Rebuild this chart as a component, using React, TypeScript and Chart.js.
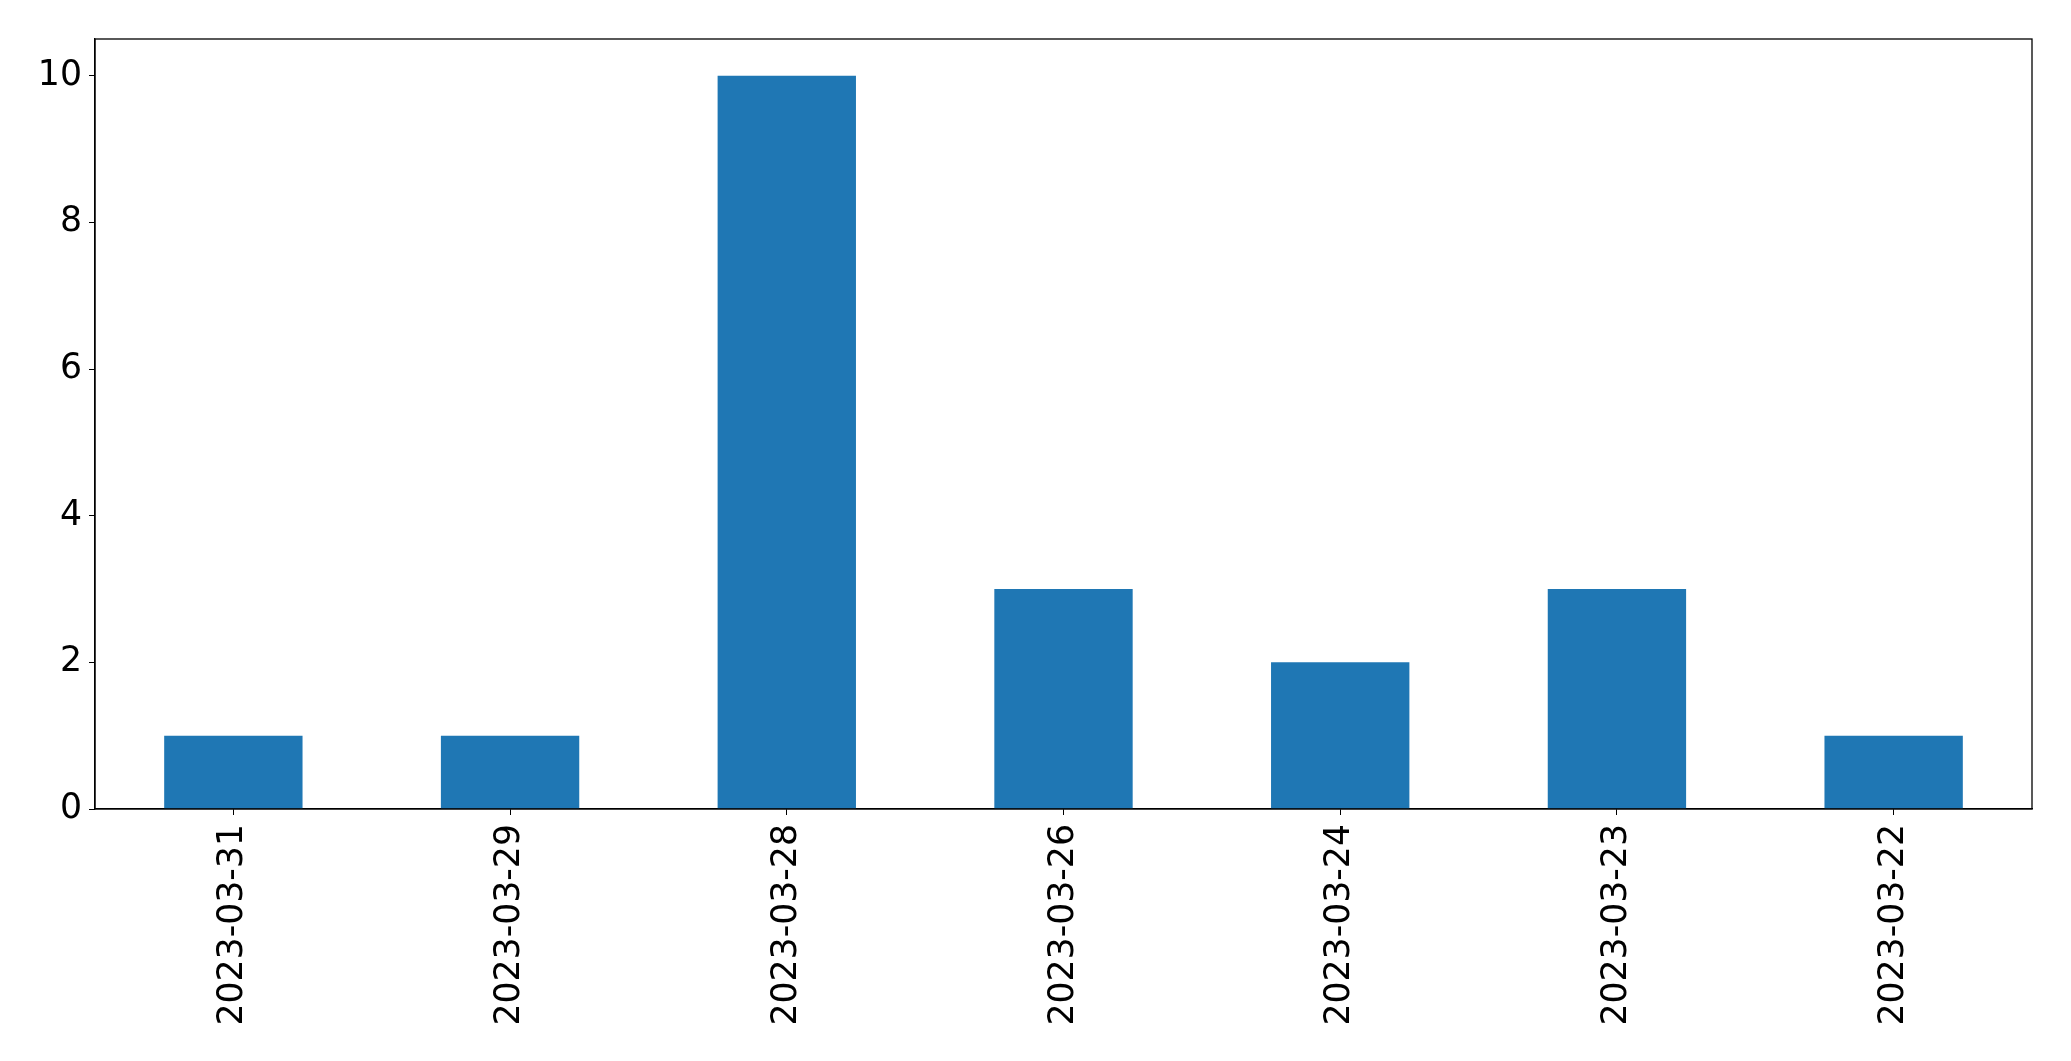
import React, { useEffect, useRef } from "react";
import { Chart, registerables } from "chart.js";

Chart.register(...registerables);

const categories = ["2023-03-31", "2023-03-29", "2023-03-28", "2023-03-26", "2023-03-24", "2023-03-23", "2023-03-22"];
const values = [1, 1, 10, 3, 2, 3, 1];
const yTicks = [0, 2, 4, 6, 8, 10];

const frame = {
  id: "frame",
  afterDraw(chart: any) {
    const { ctx, chartArea } = chart;
    ctx.save();
    ctx.strokeStyle = "#000";
    ctx.lineWidth = 1.3;
    ctx.strokeRect(chartArea.left, chartArea.top, chartArea.right - chartArea.left, chartArea.bottom - chartArea.top);
    ctx.restore();
  },
};

export default function App() {
  const ref = useRef<HTMLCanvasElement>(null);
  useEffect(() => {
    const font = { family: "'DejaVu Sans'", size: 34.7 };
    const chart = new Chart(ref.current!, {
      type: "bar",
      data: {
        labels: categories,
        datasets: [{ data: values, backgroundColor: "#1f77b4", barPercentage: 0.5, categoryPercentage: 1 }],
      },
      options: {
        animation: false,
        responsive: false,
        maintainAspectRatio: false,
        layout: { padding: { left: 0, top: 39, right: 39, bottom: 0 } },
        plugins: { legend: { display: false }, tooltip: { enabled: false } },
        scales: {
          x: {
            offset: true,
            grid: { display: true, drawOnChartArea: false, drawTicks: true, tickLength: 6, color: "#000", offset: false },
            border: { display: true, color: "#000", width: 1.3 },
            ticks: { color: "#000", font, maxRotation: 90, minRotation: 90, padding: 9, autoSkip: false },
            afterFit(s: any) { s.height = 252; },
          },
          y: {
            min: 0,
            max: 10.5,
            grid: { display: true, drawOnChartArea: false, drawTicks: true, tickLength: 6, color: "#000" },
            border: { display: true, color: "#000", width: 1.3 },
            ticks: { color: "#000", font, padding: 7 },
            afterBuildTicks(s: any) { s.ticks = yTicks.map((v) => ({ value: v })); },
            afterFit(s: any) { s.width = 95; },
          },
        },
      },
      plugins: [frame],
    });
    return () => chart.destroy();
  }, []);
  return (
    <div style={{ position: "fixed", left: 0, top: 0, width: 2071, height: 1061, background: "#fff" }}>
      <canvas ref={ref} width={2071} height={1061} />
    </div>
  );
}
